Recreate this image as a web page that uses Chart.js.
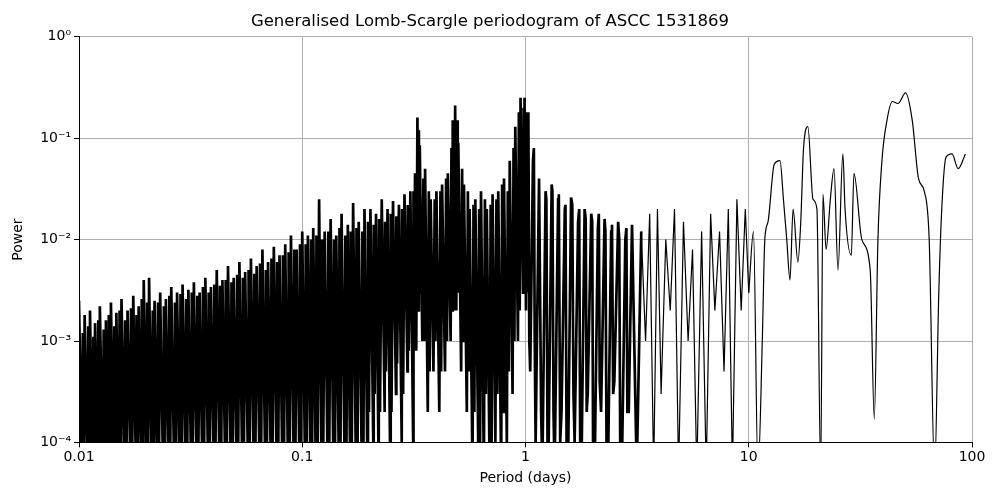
<!DOCTYPE html>
<html>
<head>
    <title>Generalised Lomb-Scargle periodogram</title>
    <script src="https://cdn.jsdelivr.net/npm/chart.js"></script>
    <style>
        body { margin: 0; background: #fff; }
        #wrap { width: 1000px; height: 500px; }
    </style>
</head>
<body>
<div id="wrap"><canvas id="pgram"></canvas></div>
<script>
// periods (days) and power, dense part approximated peak/trough
const periods = [
    0.0100, 0.0103, 0.0106, 0.0109, 0.0112, 0.0115, 0.0118, 0.0121, 0.0124, 0.0128,
    0.0132, 0.0135, 0.0139, 0.0143, 0.0147, 0.0151, 0.0155, 0.0160, 0.0165, 0.0170,
    0.0175, 0.0180, 0.0185, 0.0190, 0.0195, 0.0200, 0.0206, 0.0212, 0.0218, 0.0224,
    0.0231, 0.0238, 0.0245, 0.0252, 0.0259, 0.0267, 0.0275, 0.0283, 0.0291, 0.0300,
    0.0309, 0.0318, 0.0327, 0.0337, 0.0347, 0.0357, 0.0368, 0.0379, 0.0390, 0.0402,
    0.0414, 0.0426, 0.0439, 0.0452, 0.0465, 0.0479, 0.0493, 0.0508, 0.0523, 0.0539,
    0.0555, 0.0572, 0.0589, 0.0607, 0.0625, 0.0644, 0.0663, 0.0683, 0.0703, 0.0724,
    0.0746, 0.0768, 0.0791, 0.0815, 0.0839, 0.0864, 0.0890, 0.0917, 0.0944, 0.0972,
    0.100, 0.103, 0.106, 0.109, 0.112, 0.115, 0.119, 0.122, 0.126, 0.130,
    0.134, 0.138, 0.142, 0.146, 0.150, 0.155, 0.160, 0.164, 0.169, 0.174,
    0.179, 0.185, 0.190, 0.196, 0.202, 0.208, 0.214, 0.220, 0.227, 0.234,
    0.241, 0.248, 0.255, 0.263, 0.271, 0.279, 0.287, 0.296, 0.305, 0.314,
    0.320, 0.324, 0.328, 0.332, 0.336, 0.345, 0.355, 0.365, 0.376, 0.387,
    0.399, 0.411, 0.423, 0.436, 0.449, 0.462, 0.472, 0.478, 0.484, 0.490,
    0.500, 0.515, 0.530, 0.546, 0.562, 0.579, 0.596, 0.614, 0.632, 0.651,
    0.671, 0.691, 0.712, 0.733, 0.755, 0.778, 0.801, 0.825, 0.850, 0.875,
    0.900, 0.925, 0.950, 0.975, 0.990, 1.005, 1.02, 1.05, 1.08, 1.11,
    1.15, 1.19, 1.23, 1.27, 1.31, 1.35, 1.40, 1.45, 1.50, 1.55,
    1.60, 1.66, 1.72, 1.78, 1.84, 1.90, 1.97, 2.04, 2.11, 2.18,
    2.26, 2.34, 2.42, 2.50, 2.60, 2.70, 2.80, 2.90, 3.00, 3.15,
    3.30, 3.45, 3.60, 3.75, 3.90, 4.05, 4.25, 4.45, 4.65, 4.85,
    5.10, 5.35, 5.60, 5.85, 6.15, 6.45, 6.75, 7.05, 7.40, 7.75,
    8.10, 8.45, 8.85, 9.25, 9.65, 10.0, 10.5, 11.0, 11.5, 11.8,
    12.2, 13.0, 13.8, 14.3, 14.8, 15.3, 15.8, 16.6, 17.1, 17.6,
    18.4, 19.4, 20.2, 21.0, 21.5, 22.2, 23.2, 24.1, 25.1, 26.4,
    27.0, 28.8, 29.6, 32.1, 35.0, 36.5, 37.9, 39.5, 41.6, 44.0,
    46.6, 50.4, 54.0, 57.6, 61.1, 64.3, 68.0, 71.0, 73.2, 76.5,
    81.4, 86.7, 93.4, 100
];
const power = [
    2.5e-3, 5e-5, 1.8e-3, 5e-5, 2.0e-3, 5e-5, 1.5e-3, 5e-5, 2.2e-3, 5e-5,
    1.6e-3, 5e-5, 2.4e-3, 5e-5, 1.9e-3, 5e-5, 2.6e-3, 5e-5, 2.0e-3, 5e-5,
    2.8e-3, 5e-5, 2.2e-3, 5e-5, 4.0e-3, 5e-5, 4.2e-3, 5e-5, 2.5e-3, 5e-5,
    3.0e-3, 5e-5, 2.6e-3, 5e-5, 3.4e-3, 5e-5, 3.0e-3, 5e-5, 3.6e-3, 5e-5,
    3.2e-3, 5e-5, 3.8e-3, 5e-5, 3.0e-3, 5e-5, 4.2e-3, 5e-5, 3.4e-3, 5e-5,
    5.0e-3, 5e-5, 4.0e-3, 5e-5, 5.5e-3, 5e-5, 4.2e-3, 5e-5, 6.0e-3, 5e-5,
    4.8e-3, 5e-5, 6.5e-3, 5e-5, 5.5e-3, 5e-5, 8.0e-3, 5e-5, 6.0e-3, 5e-5,
    8.5e-3, 5e-5, 7.0e-3, 5e-5, 9.0e-3, 5e-5, 1.1e-2, 5e-5, 8.0e-3, 5e-5,
    1.2e-2, 5e-5, 1.1e-2, 5e-5, 1.3e-2, 5e-5, 2.5e-2, 5e-5, 1.2e-2, 5e-5,
    1.6e-2, 5e-5, 1.1e-2, 5e-5, 1.8e-2, 5e-5, 1.4e-2, 5e-5, 2.3e-2, 5e-5,
    1.5e-2, 5e-5, 2.0e-2, 5e-5, 2.0e-2, 1e-4, 1.8e-2, 5e-5, 2.5e-2, 2e-4,
    2.0e-2, 5e-5, 2.4e-2, 3e-4, 2.2e-2, 1e-4, 2.8e-2, 5e-4, 3.0e-2, 1e-4,
    4.5e-2, 8e-4, 1.6e-1, 2e-3, 8.5e-2, 1e-3, 5e-2, 2e-4, 2.5e-2, 5e-4,
    3.0e-2, 2e-4, 3.5e-2, 5e-4, 4.5e-2, 1e-3, 1.5e-1, 2e-3, 2.1e-1, 2e-3,
    9e-2, 5e-4, 3.5e-2, 2e-4, 2.0e-2, 5e-5, 2.5e-2, 1e-4, 3.0e-2, 5e-5,
    2.0e-2, 5e-5, 2.8e-2, 1e-4, 3.0e-2, 5e-5, 4.0e-2, 1e-4, 6.0e-2, 3e-4,
    1.3e-1, 1e-3, 2.5e-1, 3e-3, 2.5e-1, 2e-3, 1.3e-1, 5e-4, 6.0e-2, 1e-4,
    4.0e-2, 5e-5, 3.0e-2, 1e-4, 3.5e-2, 5e-5, 2.5e-2, 2e-4, 2.0e-2, 5e-5,
    2.6e-2, 1e-4, 1.5e-2, 5e-5, 2.0e-2, 3e-4, 1.8e-2, 5e-5, 1.3e-2, 2e-4,
    1.6e-2, 5e-5, 1.2e-2, 4e-4, 1.5e-2, 5e-5, 1.0e-2, 2e-4, 1.4e-2, 5e-5,
    1.2e-2, 1e-3, 1.8e-2, 5e-5, 2.0e-2, 3e-4, 1.0e-2, 2e-3, 2.0e-2, 5e-5,
    1.5e-2, 1e-3, 8e-3, 5e-5, 1.2e-2, 5e-5, 1.8e-2, 2e-3, 1.2e-2, 5e-4,
    2.0e-2, 5e-5, 2.5e-2, 2e-3, 2.0e-2, 3e-3, 1.2e-2, 5e-5, 1e-3,
    1.0e-2, 1.5e-2, 5.5e-2, 6.0e-2, 2.5e-2, 1.0e-2, 4.0e-3, 2.0e-2, 6e-3, 1.5e-2,
    8.0e-2, 1.3e-1, 2.5e-2, 2.0e-2, 5e-5, 2.8e-2, 8e-3, 2.5e-2, 5.0e-2, 5e-3,
    7.0e-2, 2.0e-2, 7e-3, 4.5e-2, 1.0e-2, 5e-3, 1.7e-4, 1.0e-2, 6.0e-2, 1.5e-1,
    2.3e-1, 2.2e-1, 2.8e-1, 1.5e-1, 4.0e-2, 3.0e-2, 1.0e-2, 5e-5, 3e-3, 2.0e-2,
    6.5e-2, 7.0e-2, 5.0e-2, 7.0e-2
];

// the secondary spikes in between the main ones (peak, trough pairs)
const midPeriods = [
    0.0104, 0.0105, 0.0110, 0.0111, 0.0116, 0.0117, 0.0122, 0.0123, 0.0129, 0.0131,
    0.0136, 0.0138, 0.0144, 0.0146, 0.0152, 0.0154, 0.0161, 0.0163, 0.0171, 0.0173,
    0.0181, 0.0183, 0.0191, 0.0193, 0.0202, 0.0204, 0.0214, 0.0216, 0.0226, 0.0228,
    0.0240, 0.0242, 0.0254, 0.0256, 0.0269, 0.0272, 0.0285, 0.0288, 0.0302, 0.0305,
    0.0320, 0.0323, 0.0339, 0.0342, 0.0359, 0.0363, 0.0381, 0.0385, 0.0404, 0.0408,
    0.0428, 0.0433, 0.0454, 0.0459, 0.0482, 0.0487, 0.0511, 0.0516, 0.0542, 0.0547,
    0.0575, 0.0581, 0.0610, 0.0616, 0.0647, 0.0654, 0.0687, 0.0694, 0.0728, 0.0735,
    0.0772, 0.0780, 0.0819, 0.0828, 0.0869, 0.0878, 0.0922, 0.0931, 0.0977, 0.0987,
    0.1036, 0.1046, 0.1096, 0.1106, 0.1158, 0.1170, 0.1228, 0.1240, 0.1308, 0.1320,
    0.1388, 0.1400, 0.1468, 0.1482, 0.1560, 0.1575, 0.1650, 0.1665, 0.1750, 0.1767,
    0.1860, 0.1877, 0.1970, 0.1990, 0.2090, 0.2110, 0.2210, 0.2230, 0.2350, 0.2370,
    0.2490, 0.2510, 0.2640, 0.2660, 0.2800, 0.2830, 0.2970, 0.3000, 0.3150, 0.3170,
    0.3330, 0.3345, 0.3490, 0.3520, 0.3690, 0.3720, 0.3920, 0.3950, 0.4160, 0.4190,
    0.4410, 0.4450, 0.4660, 0.4690, 0.4800, 0.4820, 0.4940, 0.4970, 0.5200, 0.5250,
    0.5520, 0.5570, 0.5850, 0.5900, 0.6200, 0.6260, 0.6580, 0.6640, 0.6980, 0.7050,
    0.7410, 0.7480, 0.7860, 0.7930, 0.8330, 0.8420, 0.8840, 0.8920, 0.9340, 0.9420,
    0.9810, 0.9850, 1.010, 1.015, 1.030, 1.040, 1.090, 1.100, 1.160, 1.175,
    1.240, 1.255, 1.320, 1.335, 1.410, 1.430, 1.510, 1.530, 1.620, 1.640,
    1.740, 1.760, 1.860, 1.880, 1.990, 2.010, 2.130, 2.150, 2.280, 2.310,
    2.440, 2.470, 2.630, 2.660, 2.830, 2.860
];
const midPower = [
    1.2e-3, 5e-5, 1.4e-3, 5e-5, 1.1e-3, 5e-5, 1.6e-3, 5e-5, 1.3e-3, 5e-5,
    1.8e-3, 5e-5, 1.4e-3, 5e-5, 2.0e-3, 5e-5, 1.6e-3, 5e-5, 2.1e-3, 5e-5,
    1.8e-3, 5e-5, 2.6e-3, 5e-5, 2.4e-3, 5e-5, 2.0e-3, 5e-5, 2.4e-3, 5e-5,
    2.2e-3, 5e-5, 2.8e-3, 5e-5, 2.4e-3, 5e-5, 2.9e-3, 5e-5, 2.6e-3, 5e-5,
    3.0e-3, 5e-5, 2.8e-3, 5e-5, 3.4e-3, 5e-5, 3.0e-3, 5e-5, 3.6e-3, 5e-5,
    3.5e-3, 5e-5, 4.0e-3, 5e-5, 3.8e-3, 5e-5, 4.5e-3, 5e-5, 4.2e-3, 5e-5,
    5.0e-3, 5e-5, 4.6e-3, 5e-5, 5.8e-3, 5e-5, 5.0e-3, 5e-5, 6.5e-3, 5e-5,
    6.0e-3, 5e-5, 7.0e-3, 5e-5, 7.5e-3, 5e-5, 8.0e-3, 5e-5, 9.0e-3, 5e-5,
    9.0e-3, 5e-5, 1.0e-2, 5e-5, 1.1e-2, 5e-5, 1.0e-2, 5e-5, 1.2e-2, 5e-5,
    1.0e-2, 5e-5, 1.3e-2, 5e-5, 1.1e-2, 5e-5, 1.2e-2, 5e-5, 1.3e-2, 5e-5,
    1.2e-2, 5e-5, 1.5e-2, 2e-4, 1.4e-2, 3e-4, 1.6e-2, 2e-4, 1.5e-2, 5e-4,
    1.8e-2, 2e-4, 1.7e-2, 6e-4, 2.0e-2, 3e-4, 2.2e-2, 8e-4, 3.0e-2, 1e-3,
    1.2e-1, 3e-3, 4.0e-2, 1e-3, 3.0e-2, 5e-4, 2.5e-2, 1e-3, 3.0e-2, 5e-4,
    4.0e-2, 1e-3, 8.0e-2, 2e-3, 1.2e-1, 3e-3, 1.5e-1, 3e-3, 5.0e-2, 1e-3,
    3.0e-2, 5e-4, 2.2e-2, 2e-4, 2.0e-2, 1e-4, 2.5e-2, 3e-4, 2.2e-2, 1e-4,
    2.5e-2, 3e-4, 3.5e-2, 2e-4, 3.0e-2, 5e-4, 8.0e-2, 1e-3, 1.8e-1, 2e-3,
    2.0e-1, 4e-3, 1.8e-1, 3e-3, 1.8e-1, 1e-3, 8.0e-2, 1e-3, 4.0e-2, 2e-4,
    2.5e-2, 1e-4, 3.0e-2, 2e-4, 2.8e-2, 1e-4, 2.2e-2, 5e-5, 2.2e-2, 3e-4,
    2.0e-2, 5e-5, 1.6e-2, 2e-4, 1.5e-2, 5e-5, 1.8e-2, 4e-4, 1.2e-2, 5e-5,
    1.4e-2, 3e-4, 1.0e-2, 5e-5, 1.3e-2, 2e-4
];

const xTicks = [0.01, 0.1, 1, 10, 100];
const yLabels = { 1e-4: '10⁻⁴', 1e-3: '10⁻³', 1e-2: '10⁻²', 1e-1: '10⁻¹', 1: '10⁰' };
const denseEnd = 3.3;   // below this period the reference is a solid mass of lines
const smoothStart = 10; // above this the curve is smooth

const points = periods.map((p, i) => ({ x: p, y: power[i] }))
    .concat(midPeriods.map((p, i) => ({ x: p, y: midPower[i] })))
    .sort((a, b) => a.x - b.x);
const font = { family: 'DejaVu Sans', size: 14 };

new Chart(document.getElementById('pgram'), {
    type: 'line',
    data: {
        datasets: [
            {
                data: points.filter(pt => pt.x <= denseEnd),
                borderColor: '#000',
                borderWidth: 2.7,
                borderJoinStyle: 'miter',
                pointRadius: 0,
                tension: 0
            },
            {
                data: points.filter(pt => pt.x >= denseEnd && pt.x <= smoothStart),
                borderColor: '#000',
                borderWidth: 1.2,
                pointRadius: 0,
                tension: 0
            },
            {
                data: points.filter(pt => pt.x >= smoothStart),
                borderColor: '#000',
                borderWidth: 1.2,
                pointRadius: 0,
                cubicInterpolationMode: 'monotone'
            }
        ]
    },
    options: {
        responsive: true,
        maintainAspectRatio: false,
        animation: false,
        layout: { padding: { left: 8, right: 28, top: 0, bottom: 9 } },
        plugins: {
            legend: { display: false },
            tooltip: { enabled: false },
            title: {
                display: true,
                text: 'Generalised Lomb-Scargle periodogram of ASCC 1531869',
                color: '#000',
                font: { family: 'DejaVu Sans', size: 16.5, weight: 'normal' },
                padding: { top: 12, bottom: 5 }
            }
        },
        scales: {
            x: {
                type: 'logarithmic',
                min: 0.01, max: 100,
                title: { display: true, text: 'Period (days)', color: '#000', font: font, padding: { top: 2 } },
                afterBuildTicks: axis => { axis.ticks = xTicks.map(v => ({ value: v })); },
                ticks: { color: '#000', font: font, maxRotation: 0, padding: 2, callback: v => String(v) },
                grid: { color: '#b0b0b0', tickLength: 5, tickColor: '#000' },
                border: { color: '#000' }
            },
            y: {
                type: 'logarithmic',
                min: 1e-4, max: 1,
                title: { display: true, text: 'Power', color: '#000', font: font, padding: 2 },
                afterBuildTicks: axis => { axis.ticks = Object.keys(yLabels).map(v => ({ value: Number(v) })); },
                afterFit: axis => { axis.width = 71; },
                ticks: { color: '#000', font: font, padding: 3, callback: v => yLabels[v] },
                grid: { color: '#b0b0b0', tickLength: 5, tickColor: '#000' },
                border: { color: '#000' }
            }
        }
    }
});
</script>
</body>
</html>
